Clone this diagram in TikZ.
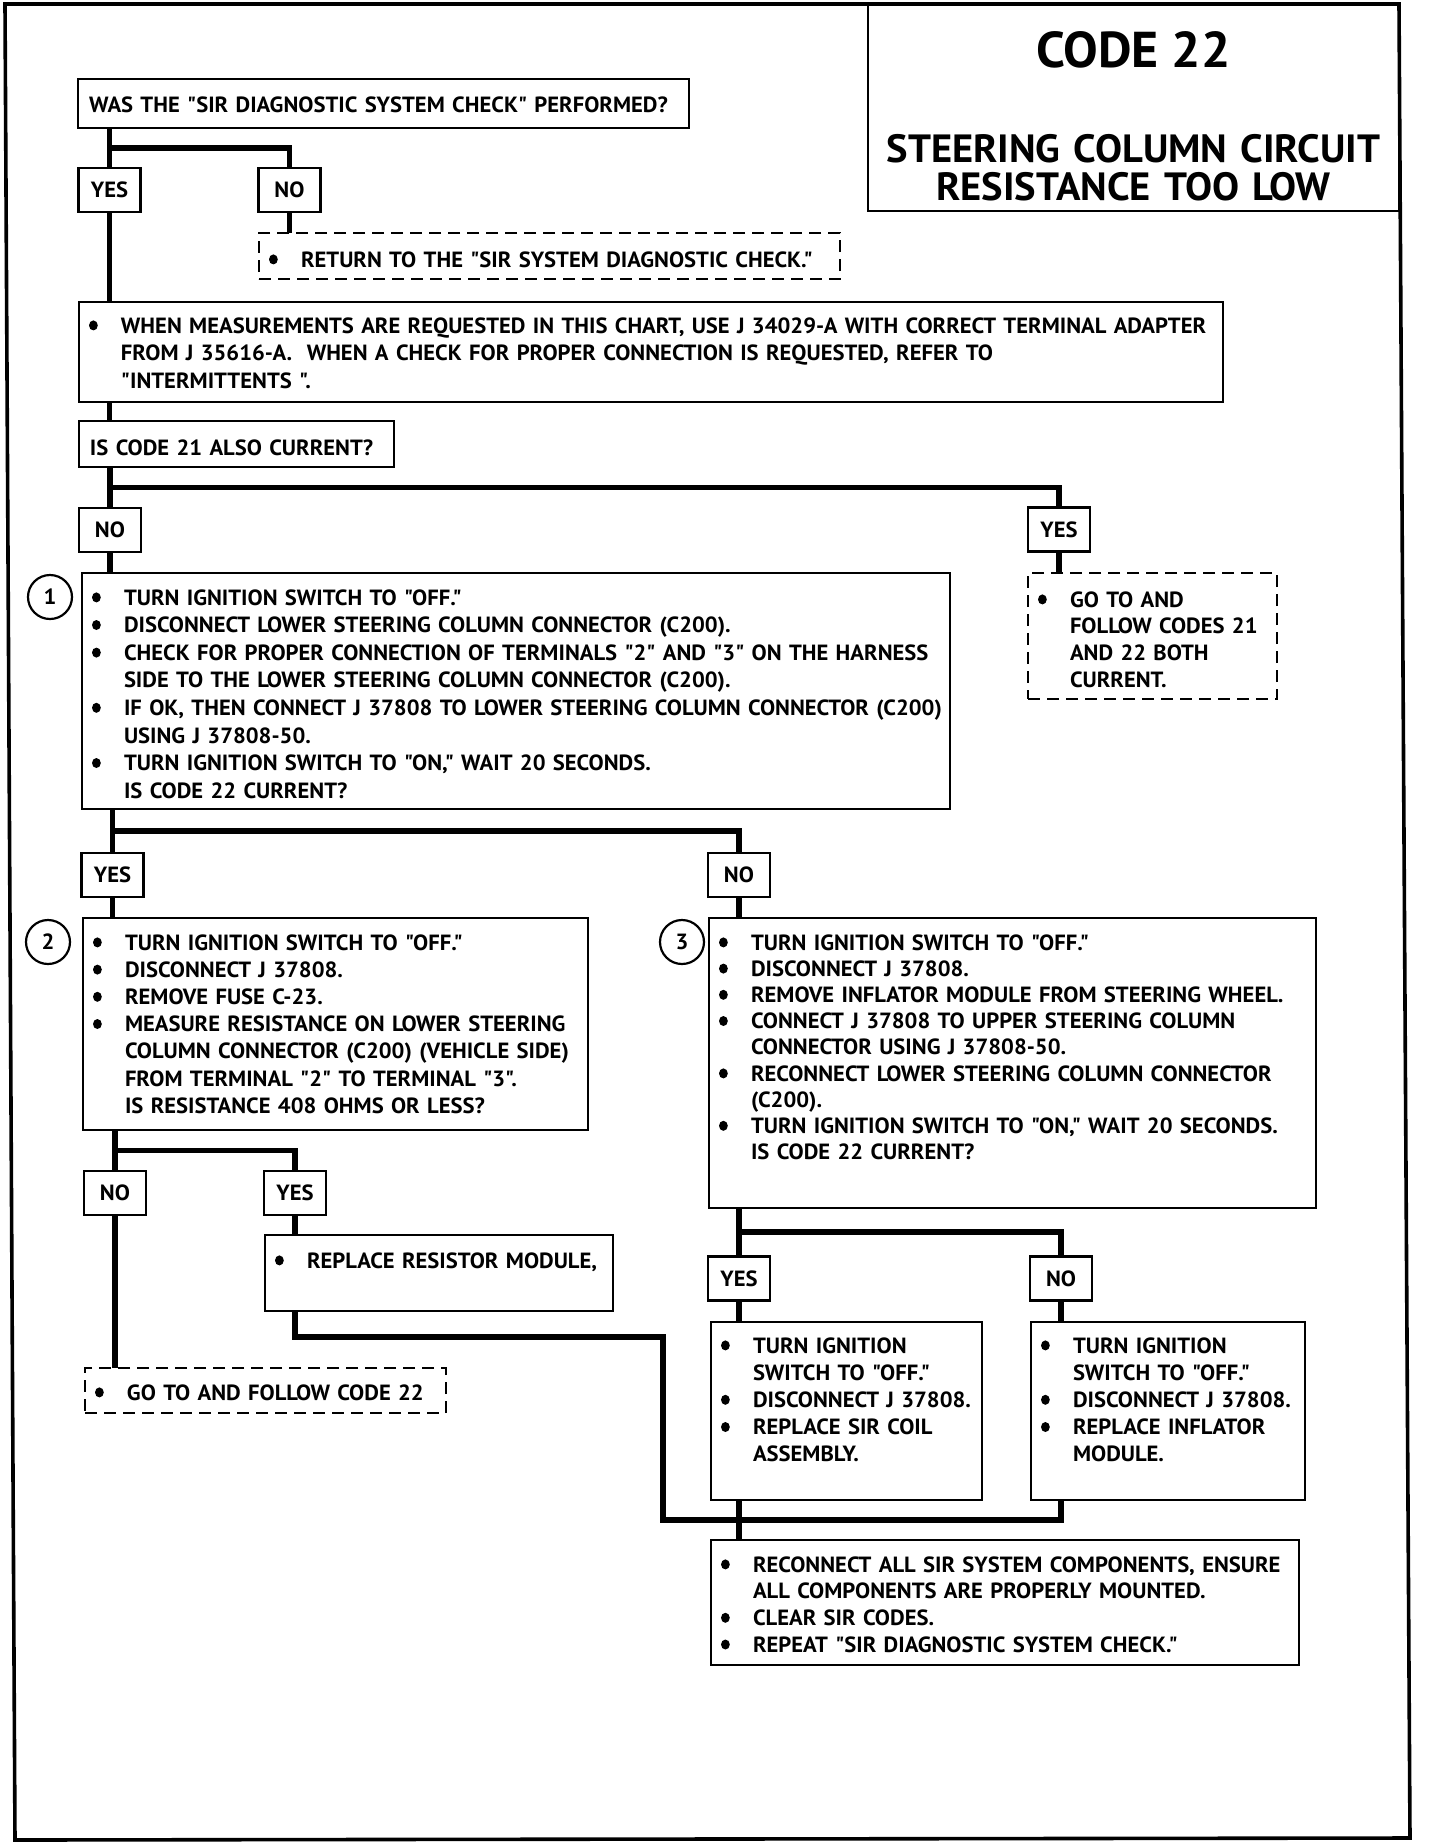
\documentclass[tikz,border=0pt]{standalone}
\usepackage{fontspec}
\newfontfamily\chartfont{PT Sans}[FakeStretch=1.028]
\usetikzlibrary{calc}

\newcommand{\bdot}{\tikz[baseline=0pt]\fill (2.4pt,3.8pt) ellipse [x radius=2.2pt, y radius=2.5pt];}
\newcommand{\bul}[1]{\makebox[16pt][l]{\bdot}\mbox{#1}\par}
\newcommand{\bcont}[1]{\makebox[16pt][l]{}\mbox{#1}\par}

\begin{document}
\begin{tikzpicture}[x=0.5pt, y=-0.5pt,
		lh/.style={font=\chartfont\bfseries\fontsize{11pt}{#1}\selectfont},
		every node/.style={lh=13.75pt},
		box/.style={draw, line width=1.3pt, anchor=north west, inner xsep=5pt, inner ysep=0pt, outer sep=0pt},
		dbox/.style={box, dash pattern=on 6pt off 3.5pt},
		ans/.style={draw, line width=1.3pt, minimum width=31pt, minimum height=22pt, inner sep=0pt, outer sep=0pt},
		num/.style={draw, circle, line width=1.1pt, minimum size=22pt, inner sep=0pt},
		conn/.style={line width=2.8pt}]
		\fill[white] (0,0) rectangle (1440,1844);
		\useasboundingbox (0,0) rectangle (1440,1844);
		\draw[line width=1.8pt] (5,4) -- (1399,4) -- (1410,1838) -- (15,1840) -- cycle; % Ramen
		
		\node[box, inner xsep=0pt, text width=265.5pt, align=center, text height=31.5pt, text depth=72pt, font=\chartfont\bfseries\fontsize{19.7pt}{19pt}\selectfont] (title) at (868,4) {{\fontsize{25.2pt}{19pt}\selectfont CODE 22}\\[28.5pt]STEERING COLUMN CIRCUIT\\RESISTANCE TOO LOW}; % Rubrik
		
		\node[box, inner xsep=5.5pt, text width=294.5pt, text height=16.5pt, text depth=8pt] (was) at (78,79) {WAS THE "SIR DIAGNOSTIC SYSTEM CHECK" PERFORMED?};
		\node[ans] (yes1) at (109.5,190) {YES};
		\node[ans] (no1) at (289.5,190) {NO};
		\node[dbox, text width=280.5pt, text height=17pt, text depth=6pt] (ret) at (259,233) {\bul{RETURN TO THE "SIR SYSTEM DIAGNOSTIC CHECK."}};
		\node[box, text width=562pt, text height=15.5pt, text depth=34.5pt] (when) at (79,302) {\bul{WHEN MEASUREMENTS ARE REQUESTED IN THIS CHART, USE J 34029-A WITH CORRECT TERMINAL ADAPTER}\bcont{FROM J 35616-A.\ \ WHEN A CHECK FOR PROPER CONNECTION IS REQUESTED, REFER TO}\bcont{"INTERMITTENTS ".}};
		\node[box, inner xsep=5.5pt, text width=146.5pt, text height=17pt, text depth=6pt] (q21) at (79,421) {IS CODE 21 ALSO CURRENT?};
		\node[ans] (no2) at (110,530) {NO};
		\node[ans] (yes2) at (1059,529.5) {YES};
		
		\node[box, text width=424pt, text height=16pt, text depth=102pt, lh=13.8pt] (chk1) at (82,573) {\bul{TURN IGNITION SWITCH TO "OFF."}\bul{DISCONNECT LOWER STEERING COLUMN CONNECTOR (C200).}\bul{CHECK FOR PROPER CONNECTION OF TERMINALS "2" AND "3" ON THE HARNESS}\bcont{SIDE TO THE LOWER STEERING COLUMN CONNECTOR (C200).}\bul{IF OK, THEN CONNECT J 37808 TO LOWER STEERING COLUMN CONNECTOR (C200)}\bcont{USING J 37808-50.}\bul{TURN IGNITION SWITCH TO "ON," WAIT 20 SECONDS.}\bcont{IS CODE 22 CURRENT?}};
		\node[num] (n1) at (50,597) {1};
		\node[dbox, text width=114.5pt, text height=17pt, text depth=46pt, lh=13.35pt] (both) at (1028,573) {\bul{GO TO AND}\bcont{FOLLOW CODES 21}\bcont{AND 22 BOTH}\bcont{CURRENT.}};
		\node[ans] (yes3) at (112.5,875) {YES};
		\node[ans] (no3) at (739,875) {NO};
		
		\node[box, text width=242.5pt, text height=16pt, text depth=90pt, lh=13.6pt] (chk2) at (83,918) {\bul{TURN IGNITION SWITCH TO "OFF."}\bul{DISCONNECT J 37808.}\bul{REMOVE FUSE C-23.}\bul{MEASURE RESISTANCE ON LOWER STEERING}\bcont{COLUMN CONNECTOR (C200) (VEHICLE SIDE)}\bcont{FROM TERMINAL "2" TO TERMINAL "3".}\bcont{IS RESISTANCE 408 OHMS OR LESS?}};
		\node[num] (n2) at (48,942) {2};
		\node[box, text width=293.5pt, text height=16pt, text depth=129pt, lh=13.1pt] (chk3) at (709,918) {\bul{TURN IGNITION SWITCH TO "OFF."}\bul{DISCONNECT J 37808.}\bul{REMOVE INFLATOR MODULE FROM STEERING WHEEL.}\bul{CONNECT J 37808 TO UPPER STEERING COLUMN}\bcont{CONNECTOR USING J 37808-50.}\bul{RECONNECT LOWER STEERING COLUMN CONNECTOR}\bcont{(C200).}\bul{TURN IGNITION SWITCH TO "ON," WAIT 20 SECONDS.}\bcont{IS CODE 22 CURRENT?}};
		\node[num] (n3) at (682,942) {3};
		
		\node[ans] (no4) at (115,1193) {NO};
		\node[ans] (yes4) at (295,1193) {YES};
		\node[box, text width=164pt, text height=16.5pt, text depth=21.5pt] (resist) at (265,1235) {\bul{REPLACE RESISTOR MODULE,}};
		\node[dbox, text width=170.5pt, text height=16pt, text depth=6.5pt] (code22) at (85,1368) {\bul{GO TO AND FOLLOW CODE 22}};
		\node[ans] (yes5) at (739,1278.5) {YES};
		\node[ans] (no5) at (1061,1278.5) {NO};
		\node[box, text width=125.5pt, text height=15.5pt, text depth=73.5pt, lh=13.6pt] (coil) at (711,1322) {\bul{TURN IGNITION}\bcont{SWITCH TO "OFF."}\bul{DISCONNECT J 37808.}\bul{REPLACE SIR COIL}\bcont{ASSEMBLY.}};
		\node[box, text width=127pt, text height=15.5pt, text depth=73.5pt, lh=13.6pt] (infl) at (1031,1322) {\bul{TURN IGNITION}\bcont{SWITCH TO "OFF."}\bul{DISCONNECT J 37808.}\bul{REPLACE INFLATOR}\bcont{MODULE.}};
		\node[box, text width=284pt, text height=16pt, text depth=46.5pt, lh=13.35pt] (final) at (711,1540) {\bul{RECONNECT ALL SIR SYSTEM COMPONENTS, ENSURE}\bcont{ALL COMPONENTS ARE PROPERLY MOUNTED.}\bul{CLEAR SIR CODES.}\bul{REPEAT "SIR DIAGNOSTIC SYSTEM CHECK."}};
		
		% Grenar
		\coordinate (j1) at ($(was.south)!.5!(yes1.north)$);
		\draw[conn] (yes1 |- was.south) -- (yes1.north);
		\draw[conn] (yes1 |- j1) -| (no1.north);
		\draw[conn] (no1.south) -- (no1 |- ret.north);
		\draw[conn] (yes1.south) -- (yes1 |- when.north);
		\draw[conn] (yes1 |- when.south) -- (yes1 |- q21.north);
		\coordinate (j2) at ($(q21.south)!.5!(no2.north)$);
		\draw[conn] (no2 |- q21.south) -- (no2.north);
		\draw[conn] (no2 |- j2) -| (yes2.north);
		\draw[conn] (yes2.south) -- (yes2 |- both.north);
		\draw[conn] (no2.south) -- (no2 |- chk1.north);
		\coordinate (j3) at ($(chk1.south)!.5!(yes3.north)$);
		\draw[conn] (yes3 |- chk1.south) -- (yes3.north);
		\draw[conn] (yes3 |- j3) -| (no3.north);
		\draw[conn] (yes3.south) -- (yes3 |- chk2.north);
		\draw[conn] (no3.south) -- (no3 |- chk3.north);
		\coordinate (j4) at ($(chk2.south)!.5!(no4.north)$);
		\draw[conn] (no4 |- chk2.south) -- (no4.north);
		\draw[conn] (no4 |- j4) -| (yes4.north);
		\draw[conn] (no4.south) -- (no4 |- code22.north);
		\draw[conn] (yes4.south) -- (yes4 |- resist.north);
		\coordinate (j5) at ($(chk3.south)!.5!(yes5.north)$);
		\draw[conn] (yes5 |- chk3.south) -- (yes5.north);
		\draw[conn] (yes5 |- j5) -| (no5.north);
		\draw[conn] (yes5.south) -- (yes5 |- coil.north);
		\draw[conn] (no5.south) -- (no5 |- infl.north);
		
		% Sammanfogning
		\coordinate (bend) at (663,1337);
		\coordinate (merge) at ($(coil.south)!.5!(final.north)$);
		\draw[conn] (yes4 |- resist.south) |- (bend) |- (yes5 |- merge) -| (no5 |- infl.south);
		\draw[conn] (yes5 |- coil.south) -- (yes5 |- final.north);
	\end{tikzpicture}
\end{document}
